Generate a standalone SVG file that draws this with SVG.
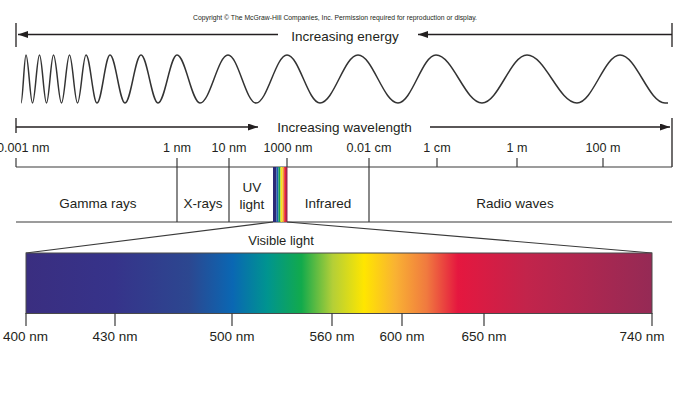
<svg xmlns="http://www.w3.org/2000/svg" width="680" height="405" viewBox="0 0 680 405">
<style>
.t{font-family:"Liberation Sans",Arial,sans-serif;fill:#231f20}
.m{font-size:13.5px}
.s{font-size:12.6px}
.ln{stroke:#3a3a3a;stroke-width:1.2;fill:none}
.ar{stroke:#231f20;stroke-width:1.3;fill:none}
</style>
<defs>
<marker id="ah" markerUnits="userSpaceOnUse" markerWidth="10" markerHeight="7" refX="10" refY="3.5" orient="auto">
<path d="M0,0 L10,3.5 L0,7 z" fill="#231f20"/>
</marker>
<linearGradient id="vis" x1="0" y1="0" x2="1" y2="0">
<stop offset="0" stop-color="#3a2e80"/>
<stop offset="0.14" stop-color="#36338a"/>
<stop offset="0.26" stop-color="#2c4790"/>
<stop offset="0.33" stop-color="#0a67b3"/>
<stop offset="0.385" stop-color="#009490"/>
<stop offset="0.44" stop-color="#12aa4c"/>
<stop offset="0.49" stop-color="#b4cf37"/>
<stop offset="0.54" stop-color="#ffe600"/>
<stop offset="0.59" stop-color="#f9b233"/>
<stop offset="0.64" stop-color="#f07a3f"/>
<stop offset="0.69" stop-color="#e5173f"/>
<stop offset="0.8" stop-color="#c2244b"/>
<stop offset="1" stop-color="#952a55"/>
</linearGradient>
</defs>
<rect width="680" height="405" fill="#ffffff"/>

<g id="copyright">
<text class="t" x="335" y="19.5" font-size="6.8" text-anchor="middle" textLength="284" lengthAdjust="spacingAndGlyphs">Copyright © The McGraw-Hill Companies, Inc. Permission required for reproduction or display.</text>
</g>

<g id="energy-arrow">
<line class="ar" x1="16" y1="23" x2="16" y2="47"/>
<line class="ar" x1="672" y1="23" x2="672" y2="47"/>
<line class="ar" x1="278" y1="34.5" x2="18" y2="34.5" marker-end="url(#ah)"/>
<line class="ar" x1="672" y1="34.5" x2="418" y2="34.5" marker-end="url(#ah)"/>
<text class="t m" x="345" y="41" text-anchor="middle">Increasing energy</text>
</g>

<g id="wave">
<path fill="none" stroke="#333333" stroke-width="1.5" d="M21,103 C22.82,103 24.18,55 26,55 C28.37,55 30.13,103 32.5,103 C35.05,103 36.95,55 39.5,55 C42.05,55 43.95,103 46.5,103 C49.05,103 50.95,55 53.5,55 C56.41,55 58.59,103 61.5,103 C64.41,103 66.59,55 69.5,55 C72.41,55 74.59,103 77.5,103 C80.59,103 82.91,55 86,55 C90,55 93,103 97,103 C101.73,103 105.27,55 110,55 C115.46,55 119.54,103 125,103 C130.82,103 135.18,55 141,55 C147.19,55 151.81,103 158,103 C164.92,103 170.08,55 177,55 C185.37,55 191.63,103 200,103 C210.19,103 217.81,55 228,55 C238.19,55 245.81,103 256,103 C267.28,103 275.72,55 287,55 C299.01,55 307.99,103 320,103 C333.83,103 344.17,55 358,55 C372.56,55 383.44,103 398,103 C411.83,103 422.17,55 436,55 C452.74,55 465.26,103 482,103 C498.38,103 510.62,55 527,55 C545.2,55 558.8,103 577,103 C592.65,103 604.35,55 620,55 C636.38,55 648.62,103 665,103 L668,103"/>
</g>

<g id="wavelength-arrow">
<line class="ar" x1="16" y1="118" x2="16" y2="133"/>
<line class="ar" x1="672" y1="118" x2="672" y2="167"/>
<line class="ar" x1="16" y1="127" x2="258" y2="127" marker-end="url(#ah)"/>
<line class="ar" x1="430" y1="127" x2="670" y2="127" marker-end="url(#ah)"/>
<text class="t m" x="344.5" y="132" text-anchor="middle">Increasing wavelength</text>
</g>

<g id="scale">
<line class="ln" x1="16" y1="158" x2="16" y2="167"/>
<line class="ln" x1="16" y1="167" x2="672" y2="167"/>
<line class="ln" x1="16" y1="222" x2="672" y2="222"/>
<line class="ln" x1="177" y1="158" x2="177" y2="222"/>
<line class="ln" x1="229" y1="158" x2="229" y2="222"/>
<line class="ln" x1="287" y1="158" x2="287" y2="167"/>
<line class="ln" x1="369" y1="158" x2="369" y2="222"/>
<line class="ln" x1="437" y1="158" x2="437" y2="167"/>
<line class="ln" x1="517" y1="158" x2="517" y2="167"/>
<line class="ln" x1="603" y1="158" x2="603" y2="167"/>
<text class="t s" x="-3" y="152">0.001 nm</text>
<text class="t s" x="177" y="152" text-anchor="middle">1 nm</text>
<text class="t s" x="229" y="152" text-anchor="middle">10 nm</text>
<text class="t s" x="288" y="152" text-anchor="middle">1000 nm</text>
<text class="t s" x="369" y="152" text-anchor="middle">0.01 cm</text>
<text class="t s" x="437" y="152" text-anchor="middle">1 cm</text>
<text class="t s" x="517" y="152" text-anchor="middle">1 m</text>
<text class="t s" x="603" y="152" text-anchor="middle">100 m</text>
</g>

<g id="gamma-rays"><text class="t m" x="98" y="208" text-anchor="middle">Gamma rays</text></g>
<g id="x-rays"><text class="t m" x="203" y="208" text-anchor="middle">X-rays</text></g>
<g id="uv-light"><text class="t m" x="252" y="192" text-anchor="middle">UV</text><text class="t m" x="252" y="209" text-anchor="middle">light</text></g>
<g id="visible-band">
<rect x="273" y="167" width="3.5" height="55" fill="#2b2a78"/>
<rect x="276.5" y="167" width="2" height="55" fill="#1a5fb0"/>
<rect x="278.5" y="167" width="2" height="55" fill="#13a04a"/>
<rect x="280.5" y="167" width="2" height="55" fill="#f5e61a"/>
<rect x="282.5" y="167" width="1.7" height="55" fill="#f39a2c"/>
<rect x="284.2" y="167" width="1.8" height="55" fill="#e4203a"/>
<rect x="286" y="167" width="1.5" height="55" fill="#a0264f"/>
</g>
<g id="infrared"><text class="t m" x="328" y="208" text-anchor="middle">Infrared</text></g>
<g id="radio-waves"><text class="t m" x="515" y="208" text-anchor="middle">Radio waves</text></g>

<g id="connectors">
<line class="ln" x1="273" y1="222" x2="26" y2="253"/>
<line class="ln" x1="287" y1="222" x2="652" y2="253"/>
</g>

<g id="visible-light">
<text class="t" font-size="13" x="281" y="245" text-anchor="middle">Visible light</text>
<rect x="26" y="253" width="626" height="60.5" fill="url(#vis)" stroke="#4a4a4a" stroke-width="1"/>
<line class="ln" x1="26" y1="313" x2="26" y2="326"/>
<line class="ln" x1="115" y1="313" x2="115" y2="326"/>
<line class="ln" x1="232" y1="313" x2="232" y2="326"/>
<line class="ln" x1="332" y1="313" x2="332" y2="326"/>
<line class="ln" x1="402" y1="313" x2="402" y2="326"/>
<line class="ln" x1="484" y1="313" x2="484" y2="326"/>
<line class="ln" x1="652" y1="313" x2="652" y2="326"/>
<text class="t m" x="25.5" y="341" text-anchor="middle">400 nm</text>
<text class="t m" x="115" y="341" text-anchor="middle">430 nm</text>
<text class="t m" x="232" y="341" text-anchor="middle">500 nm</text>
<text class="t m" x="332" y="341" text-anchor="middle">560 nm</text>
<text class="t m" x="402" y="341" text-anchor="middle">600 nm</text>
<text class="t m" x="484" y="341" text-anchor="middle">650 nm</text>
<text class="t m" x="642" y="341" text-anchor="middle">740 nm</text>
</g>
</svg>
